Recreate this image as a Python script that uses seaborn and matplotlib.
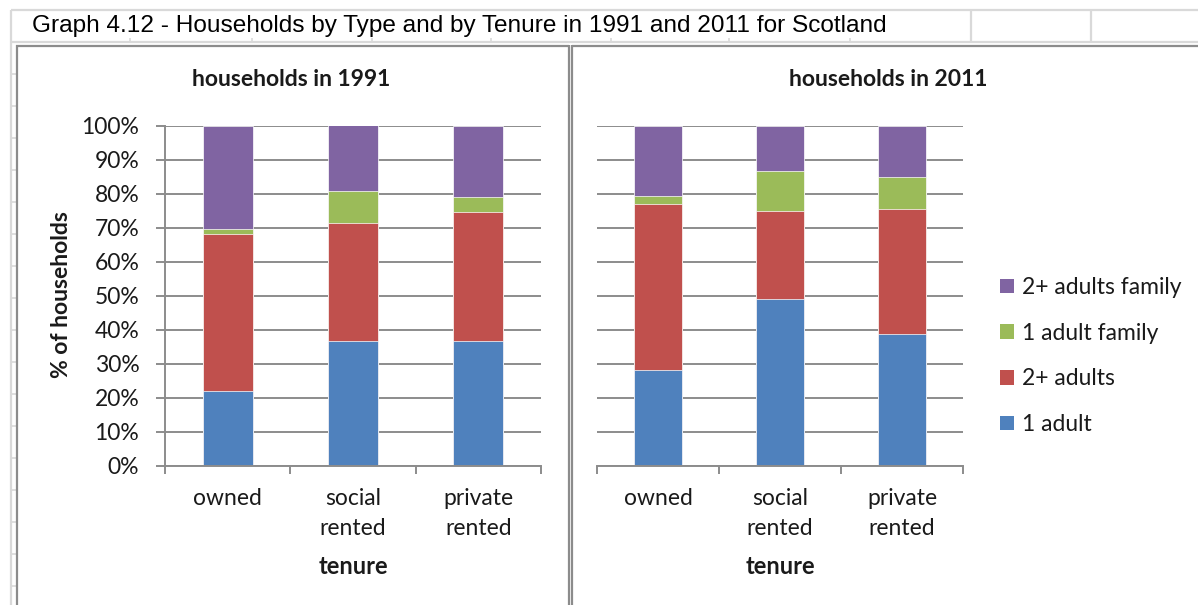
import matplotlib
matplotlib.use("Agg")
import matplotlib.pyplot as plt
from matplotlib.lines import Line2D
from matplotlib.patches import Patch
import numpy as np
import seaborn as sns

# ---- data (percent of households) ----
tenures = ["owned", "social\nrented", "private\nrented"]
series = ["1 adult", "2+ adults", "1 adult family", "2+ adults family"]
colors = ["#4F81BD", "#C0504D", "#9BBB59", "#8064A2"]

one_adult_1991 = [21.8, 36.7, 36.7]
two_adults_1991 = [46.3, 34.7, 37.9]
one_adult_family_1991 = [1.6, 9.4, 4.5]
two_adults_family_1991 = [30.3, 19.2, 20.9]

one_adult_2011 = [28.1, 49.1, 38.7]
two_adults_2011 = [48.9, 25.8, 36.8]
one_adult_family_2011 = [2.2, 11.6, 9.3]
two_adults_family_2011 = [20.8, 13.5, 15.2]

y_ticks = [0, 10, 20, 30, 40, 50, 60, 70, 80, 90, 100]
y_tick_labels = [f"{v}%" for v in y_ticks]

sns.set_theme(style="white")
CHART_FONT = ["Lato", "DejaVu Sans"]
plt.rcParams["font.family"] = CHART_FONT

W, H = 1198, 605
fig = plt.figure(figsize=(W / 100, H / 100), dpi=100)
fig.patch.set_facecolor("white")

GRID = "#8C8C8C"
SHEET = "#D9D9D9"
TXT = "#1A1A1A"
TICK_FS = 16.5
NAME_FS = 16.5


def fx(x):
    return x / W


def fy(y):
    return 1 - y / H


def line(x0, y0, x1, y1, color, lw):
    fig.add_artist(Line2D([fx(x0), fx(x1)], [fy(y0), fy(y1)],
                          transform=fig.transFigure, color=color, lw=lw,
                          solid_capstyle="butt"))


# ---- spreadsheet cells behind the charts ----
line(11, 10, W, 10, SHEET, 1.6)
line(11, 42, W, 42, SHEET, 1.6)
line(11, 10, 11, H, SHEET, 1.6)
line(971, 10, 971, 42, SHEET, 1.6)
line(1091, 10, 1091, 42, SHEET, 1.6)
for cx in [130, 252, 372, 491, 611, 729, 850]:
    line(cx, 38, cx, 42, SHEET, 1.2)
for k in range(1, 18):
    ry = 42 + 32 * k
    if ry < H:
        line(11, ry, 16, ry, SHEET, 1.2)

fig.text(fx(32), fy(26), "Graph 4.12 - Households by Type and by Tenure in 1991 and 2011 for Scotland",
         family=["Liberation Sans", "DejaVu Sans"], fontsize=17.6, color="black",
         ha="left", va="center")

# chart frames
line(16, 45.5, 568.5, 45.5, GRID, 1.6)
line(16.5, 45, 16.5, H, GRID, 1.6)
line(568.5, 45, 568.5, H, GRID, 1.6)
line(571.5, 45.5, W, 45.5, GRID, 1.6)
line(571.5, 45, 571.5, H, GRID, 1.6)


def stacked(ax, parts, show_y):
    cum = np.cumsum(np.array(parts), axis=0)
    # draw from the tallest cumulative layer down so each segment shows its own share
    for i in range(len(parts) - 1, -1, -1):
        sns.barplot(x=list(range(len(tenures))), y=cum[i], color=colors[i],
                    width=0.4, saturation=1, ax=ax, edgecolor="white",
                    linewidth=0.5, native_scale=True, errorbar=None)
    ax.set_xlim(-0.5, 2.5)
    ax.set_ylim(0, 100)
    ax.set_yticks(y_ticks)
    ax.yaxis.grid(True, color=GRID, lw=1.4)
    ax.set_axisbelow(True)
    ax.set_xticks(range(len(tenures)))
    ax.set_xticklabels(tenures, fontsize=TICK_FS, color=TXT, linespacing=1.55)
    ax.set_xticks([-0.5, 0.5, 1.5, 2.5], minor=True)
    ax.tick_params(axis="x", which="major", length=0, pad=16)
    ax.tick_params(axis="x", which="minor", length=6, width=1.4, color=GRID, bottom=True)
    for s in ["top", "right"]:
        ax.spines[s].set_visible(False)
    ax.spines["bottom"].set_color(GRID)
    ax.spines["bottom"].set_linewidth(1.4)
    if show_y:
        ax.set_yticklabels(y_tick_labels, fontsize=TICK_FS, color=TXT)
        ax.tick_params(axis="y", length=6.5, width=1.4, color=GRID, pad=12, left=True)
        ax.spines["left"].set_color(GRID)
        ax.spines["left"].set_linewidth(1.4)
    else:
        ax.set_yticklabels([])
        ax.tick_params(axis="y", length=0)
        ax.spines["left"].set_visible(False)
    ax.set_xlabel("")
    ax.set_ylabel("")


ax1 = fig.add_axes([fx(165), fy(465.5), fx(541) - fx(165), (465.5 - 125.5) / H])
stacked(ax1, [one_adult_1991, two_adults_1991, one_adult_family_1991, two_adults_family_1991], True)

ax2 = fig.add_axes([fx(597), fy(465.5), fx(963) - fx(597), (465.5 - 125.5) / H])
stacked(ax2, [one_adult_2011, two_adults_2011, one_adult_family_2011, two_adults_family_2011], False)

# titles and axis names
fig.text(fx(291), fy(80), "households in 1991", fontsize=NAME_FS, fontweight="bold",
         color=TXT, ha="center", va="center")
fig.text(fx(888), fy(80), "households in 2011", fontsize=NAME_FS, fontweight="bold",
         color=TXT, ha="center", va="center")
fig.text(fx(62), fy(295), "% of households", fontsize=NAME_FS, fontweight="bold",
         color=TXT, ha="center", va="center", rotation=90)
fig.text(fx(353), fy(566), "tenure", fontsize=NAME_FS + 0.5, fontweight="bold",
         color=TXT, ha="center", va="center")
fig.text(fx(780), fy(566), "tenure", fontsize=NAME_FS + 0.5, fontweight="bold",
         color=TXT, ha="center", va="center")

handles = [Patch(facecolor=colors[i], edgecolor="none", label=series[i])
           for i in range(len(series) - 1, -1, -1)]
fig.legend(handles=handles, loc="center left", bbox_to_anchor=(fx(1000), fy(356)),
           frameon=False, fontsize=16.5, handlelength=0.6, handleheight=0.6,
           handletextpad=0.35, labelspacing=1.08, borderpad=0, borderaxespad=0,
           labelcolor=TXT)

fig.savefig("out.png", dpi=100, facecolor="white")
